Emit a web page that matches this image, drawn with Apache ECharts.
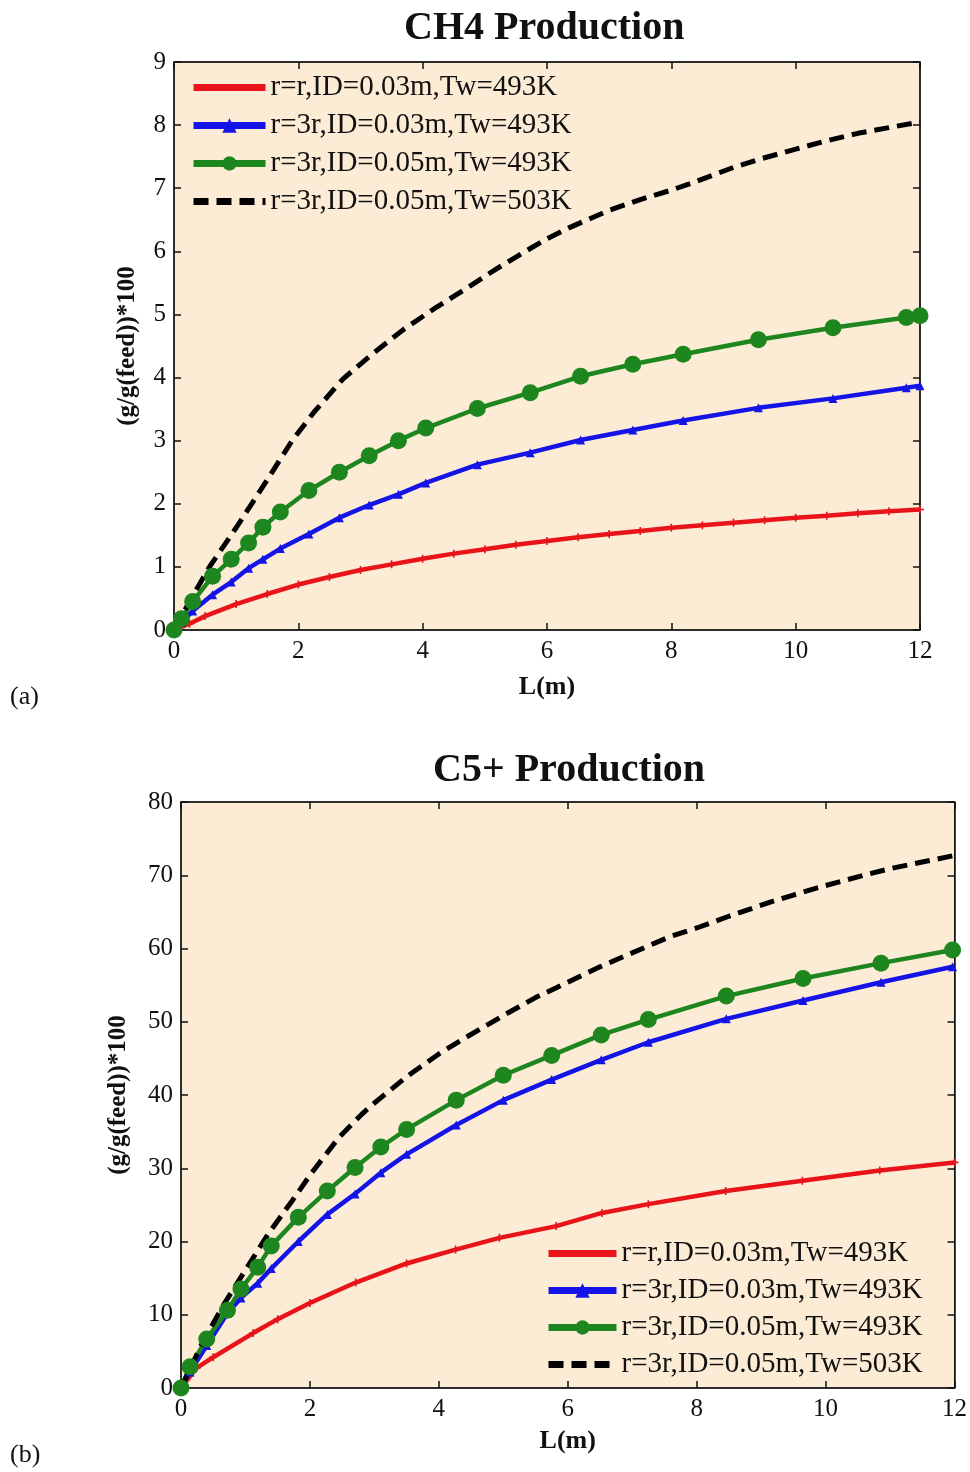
<!DOCTYPE html>
<html>
<head>
<meta charset="utf-8">
<script src="https://cdn.jsdelivr.net/npm/echarts@6/dist/echarts.min.js"></script>
<style>
  html, body { margin: 0; padding: 0; background: #fff; }
  #chart { width: 970px; height: 1472px; }
</style>
</head>
<body>
<div id="chart"></div>
<script>
const seriesNames = [
  "r=r,ID=0.03m,Tw=493K",
  "r=3r,ID=0.03m,Tw=493K",
  "r=3r,ID=0.05m,Tw=493K",
  "r=3r,ID=0.05m,Tw=503K",
];

// (a) CH4 production
const ch4RedL = [0, 0.25, 0.5, 1, 1.5, 2, 2.5, 3, 3.5, 4, 4.5, 5, 5.5, 6, 6.5, 7, 7.5, 8, 8.5, 9, 9.5, 10, 10.5, 11, 11.5, 12];
const ch4RedY = [0, 0.1, 0.22, 0.41, 0.57, 0.72, 0.84, 0.95, 1.04, 1.13, 1.21, 1.28, 1.35, 1.41, 1.47, 1.52, 1.57, 1.62, 1.66, 1.7, 1.74, 1.78, 1.81, 1.85, 1.88, 1.91];
const ch4MarkL = [0, 0.12, 0.3, 0.62, 0.92, 1.2, 1.43, 1.71, 2.17, 2.66, 3.14, 3.61, 4.05, 4.88, 5.73, 6.54, 7.38, 8.19, 9.4, 10.6, 11.78, 12];
const ch4BlueY = [0, 0.12, 0.3, 0.56, 0.76, 0.98, 1.12, 1.29, 1.52, 1.78, 1.98, 2.15, 2.33, 2.62, 2.81, 3.01, 3.17, 3.32, 3.52, 3.67, 3.84, 3.87];
const ch4GreenY = [0, 0.18, 0.45, 0.85, 1.12, 1.38, 1.63, 1.87, 2.21, 2.5, 2.76, 3.0, 3.2, 3.51, 3.76, 4.02, 4.21, 4.37, 4.6, 4.79, 4.95, 4.98];
const ch4DashL = [0, 0.25, 0.57, 1, 1.25, 1.5, 1.9, 2.25, 2.72, 3.2, 3.69, 4.2, 4.76, 5.2, 5.62, 6, 6.37, 7, 7.5, 8, 8.35, 9, 9.42, 10, 10.49, 11, 11.5, 12];
const ch4DashY = [0, 0.45, 1, 1.62, 2.0, 2.38, 3.0, 3.45, 3.98, 4.38, 4.76, 5.1, 5.45, 5.73, 5.98, 6.2, 6.38, 6.65, 6.82, 6.97, 7.09, 7.33, 7.46, 7.62, 7.75, 7.87, 7.96, 8.05];

// (b) C5+ production
const c5RedL = [0, 0.24, 0.5, 1.12, 1.5, 2, 2.71, 3.5, 4.26, 4.94, 5.82, 6.53, 7.25, 8.45, 9.64, 10.84, 12];
const c5RedY = [0, 2.7, 4.2, 7.5, 9.4, 11.6, 14.4, 17.0, 18.9, 20.5, 22.1, 23.9, 25.1, 26.9, 28.3, 29.7, 30.8];
const c5MarkL = [0, 0.14, 0.4, 0.72, 0.93, 1.19, 1.4, 1.82, 2.27, 2.7, 3.1, 3.5, 4.27, 5.0, 5.75, 6.52, 7.25, 8.46, 9.65, 10.86, 11.97];
const c5BlueY = [0, 2.2, 5.8, 10.2, 12.3, 14.3, 16.3, 20.0, 23.7, 26.5, 29.4, 31.9, 35.9, 39.3, 42.1, 44.8, 47.2, 50.4, 52.9, 55.4, 57.5];
const c5GreenY = [0, 2.9, 6.7, 10.6, 13.5, 16.5, 19.4, 23.3, 26.9, 30.1, 32.9, 35.3, 39.3, 42.7, 45.4, 48.2, 50.3, 53.5, 55.9, 58.0, 59.8];
const c5DashL = [0, 0.35, 0.67, 1, 1.35, 1.72, 2.03, 2.45, 2.82, 3.0, 3.5, 4.0, 4.35, 5.07, 5.5, 6.05, 6.5, 7.0, 7.58, 8.0, 8.5, 9.13, 9.5, 10.0, 10.68, 11.0, 11.5, 12];
const c5DashY = [0, 6.5, 11.5, 16.1, 21.0, 25.5, 29.4, 34.2, 37.5, 38.9, 42.5, 45.6, 47.5, 51.2, 53.3, 55.6, 57.5, 59.4, 61.6, 62.8, 64.4, 66.3, 67.3, 68.6, 70.2, 70.9, 71.8, 72.7];

const serif = "Liberation Serif";
const plotBg = "#FCECD6";
const plusPath = "path://M4,0H6V4H10V6H6V10H4V6H0V4H4Z";
const colors = ["#E8141A", "#1414E6", "#1E861E", "#000"];

function zip(xs, ys) {
  return xs.map((x, i) => [x, ys[i]]);
}

function mainX(grid, nameGap) {
  return {
    gridIndex: grid, type: "value", min: 0, max: 12, interval: 2,
    axisLine: { show: true, onZero: false, lineStyle: { color: "#111", width: 1.5 } },
    axisTick: { inside: true, length: 7, lineStyle: { color: "#111", width: 1.5 } },
    axisLabel: { color: "#111", fontFamily: serif, fontSize: 25, margin: 9 },
    splitLine: { show: false },
    name: "L(m)", nameLocation: "middle", nameGap: nameGap,
    nameTextStyle: { color: "#111", fontFamily: serif, fontSize: 26, fontWeight: "bold" },
  };
}

function topX(grid) {
  return {
    gridIndex: grid, type: "value", position: "top", min: 0, max: 12, interval: 2,
    axisLine: { show: true, onZero: false, lineStyle: { color: "#111", width: 1.5 } },
    axisTick: { inside: true, length: 7, lineStyle: { color: "#111", width: 1.5 } },
    axisLabel: { show: false }, splitLine: { show: false },
  };
}

function mainY(grid, max, interval, nameGap) {
  return {
    gridIndex: grid, type: "value", min: 0, max: max, interval: interval,
    axisLine: { show: true, onZero: false, lineStyle: { color: "#111", width: 1.5 } },
    axisTick: { inside: true, length: 7, lineStyle: { color: "#111", width: 1.5 } },
    axisLabel: { color: "#111", fontFamily: serif, fontSize: 25, margin: 8 },
    splitLine: { show: false },
    name: "(g/g(feed))*100", nameLocation: "middle", nameGap: nameGap,
    nameTextStyle: { color: "#111", fontFamily: serif, fontSize: 25, fontWeight: "bold" },
  };
}

function rightY(grid, max, interval) {
  return {
    gridIndex: grid, type: "value", position: "right", min: 0, max: max, interval: interval,
    axisLine: { show: true, onZero: false, lineStyle: { color: "#111", width: 1.5 } },
    axisTick: { inside: true, length: 7, lineStyle: { color: "#111", width: 1.5 } },
    axisLabel: { show: false }, splitLine: { show: false },
  };
}

function buildSeries(axis, red, blue, green, dash) {
  return [
    {
      name: seriesNames[0], type: "line", xAxisIndex: axis, yAxisIndex: axis,
      data: red, symbol: plusPath, symbolSize: 8, showSymbol: true,
      lineStyle: { color: colors[0], width: 4.5 }, itemStyle: { color: colors[0] },
    },
    {
      name: seriesNames[1], type: "line", xAxisIndex: axis, yAxisIndex: axis,
      data: blue, symbol: "triangle", symbolSize: 9, showSymbol: true,
      lineStyle: { color: colors[1], width: 4.5 }, itemStyle: { color: colors[1] },
    },
    {
      name: seriesNames[2], type: "line", xAxisIndex: axis, yAxisIndex: axis,
      data: green, symbol: "circle", symbolSize: 17, showSymbol: true,
      lineStyle: { color: colors[2], width: 4.5 }, itemStyle: { color: colors[2] },
    },
    {
      name: seriesNames[3], type: "line", xAxisIndex: axis, yAxisIndex: axis,
      data: dash, symbol: "none",
      lineStyle: { color: colors[3], width: 5, type: [15, 8] }, itemStyle: { color: colors[3] },
    },
  ];
}

// legend rows: thick line samples; red and dashed rows carry no visible marker
const legendData = [
  { name: seriesNames[0], itemStyle: { opacity: 0 } },
  { name: seriesNames[1] },
  { name: seriesNames[2] },
  { name: seriesNames[3], itemStyle: { opacity: 0 } },
];

const legendText = { color: "#111", fontFamily: serif, fontSize: 29 };

const chart = echarts.init(document.getElementById("chart"), null, { renderer: "canvas" });
chart.setOption({
  animation: false,
  backgroundColor: "#fff",
  title: [
    { text: "CH4 Production", left: 399, top: 4,
      textStyle: { color: "#111", fontFamily: serif, fontSize: 40, fontWeight: "bold" } },
    { text: "C5+ Production", left: 428, top: 746,
      textStyle: { color: "#111", fontFamily: serif, fontSize: 40, fontWeight: "bold" } },
  ],
  legend: [
    {
      orient: "vertical", left: 190, top: 73, padding: 0,
      itemWidth: 72, itemHeight: 18, itemGap: 9,
      lineStyle: { width: 7 },
      data: legendData, textStyle: legendText, selectedMode: false,
    },
    {
      orient: "vertical", left: 545, top: 1239, padding: 0,
      itemWidth: 68, itemHeight: 18, itemGap: 8,
      lineStyle: { width: 7 },
      data: legendData, textStyle: legendText, selectedMode: false,
    },
  ],
  grid: [
    { left: 174, right: 50, top: 62, height: 568, show: true,
      backgroundColor: plotBg, borderColor: "#111", borderWidth: 1 },
    { left: 181, right: 15, top: 802, height: 586, show: true,
      backgroundColor: plotBg, borderColor: "#111", borderWidth: 1 },
  ],
  xAxis: [mainX(0, 44), mainX(1, 40), topX(0), topX(1)],
  yAxis: [mainY(0, 9, 1, 34), mainY(1, 80, 10, 50), rightY(0, 9, 1), rightY(1, 80, 10)],
  graphic: [
    { type: "text", left: 10, top: 684,
      style: { text: "(a)", fill: "#111", font: "26px " + serif } },
    { type: "text", left: 10, top: 1442,
      style: { text: "(b)", fill: "#111", font: "26px " + serif } },
  ],
  series: [
    ...buildSeries(0, zip(ch4RedL, ch4RedY), zip(ch4MarkL, ch4BlueY), zip(ch4MarkL, ch4GreenY), zip(ch4DashL, ch4DashY)),
    ...buildSeries(1, zip(c5RedL, c5RedY), zip(c5MarkL, c5BlueY), zip(c5MarkL, c5GreenY), zip(c5DashL, c5DashY)),
  ],
});
</script>
</body>
</html>
